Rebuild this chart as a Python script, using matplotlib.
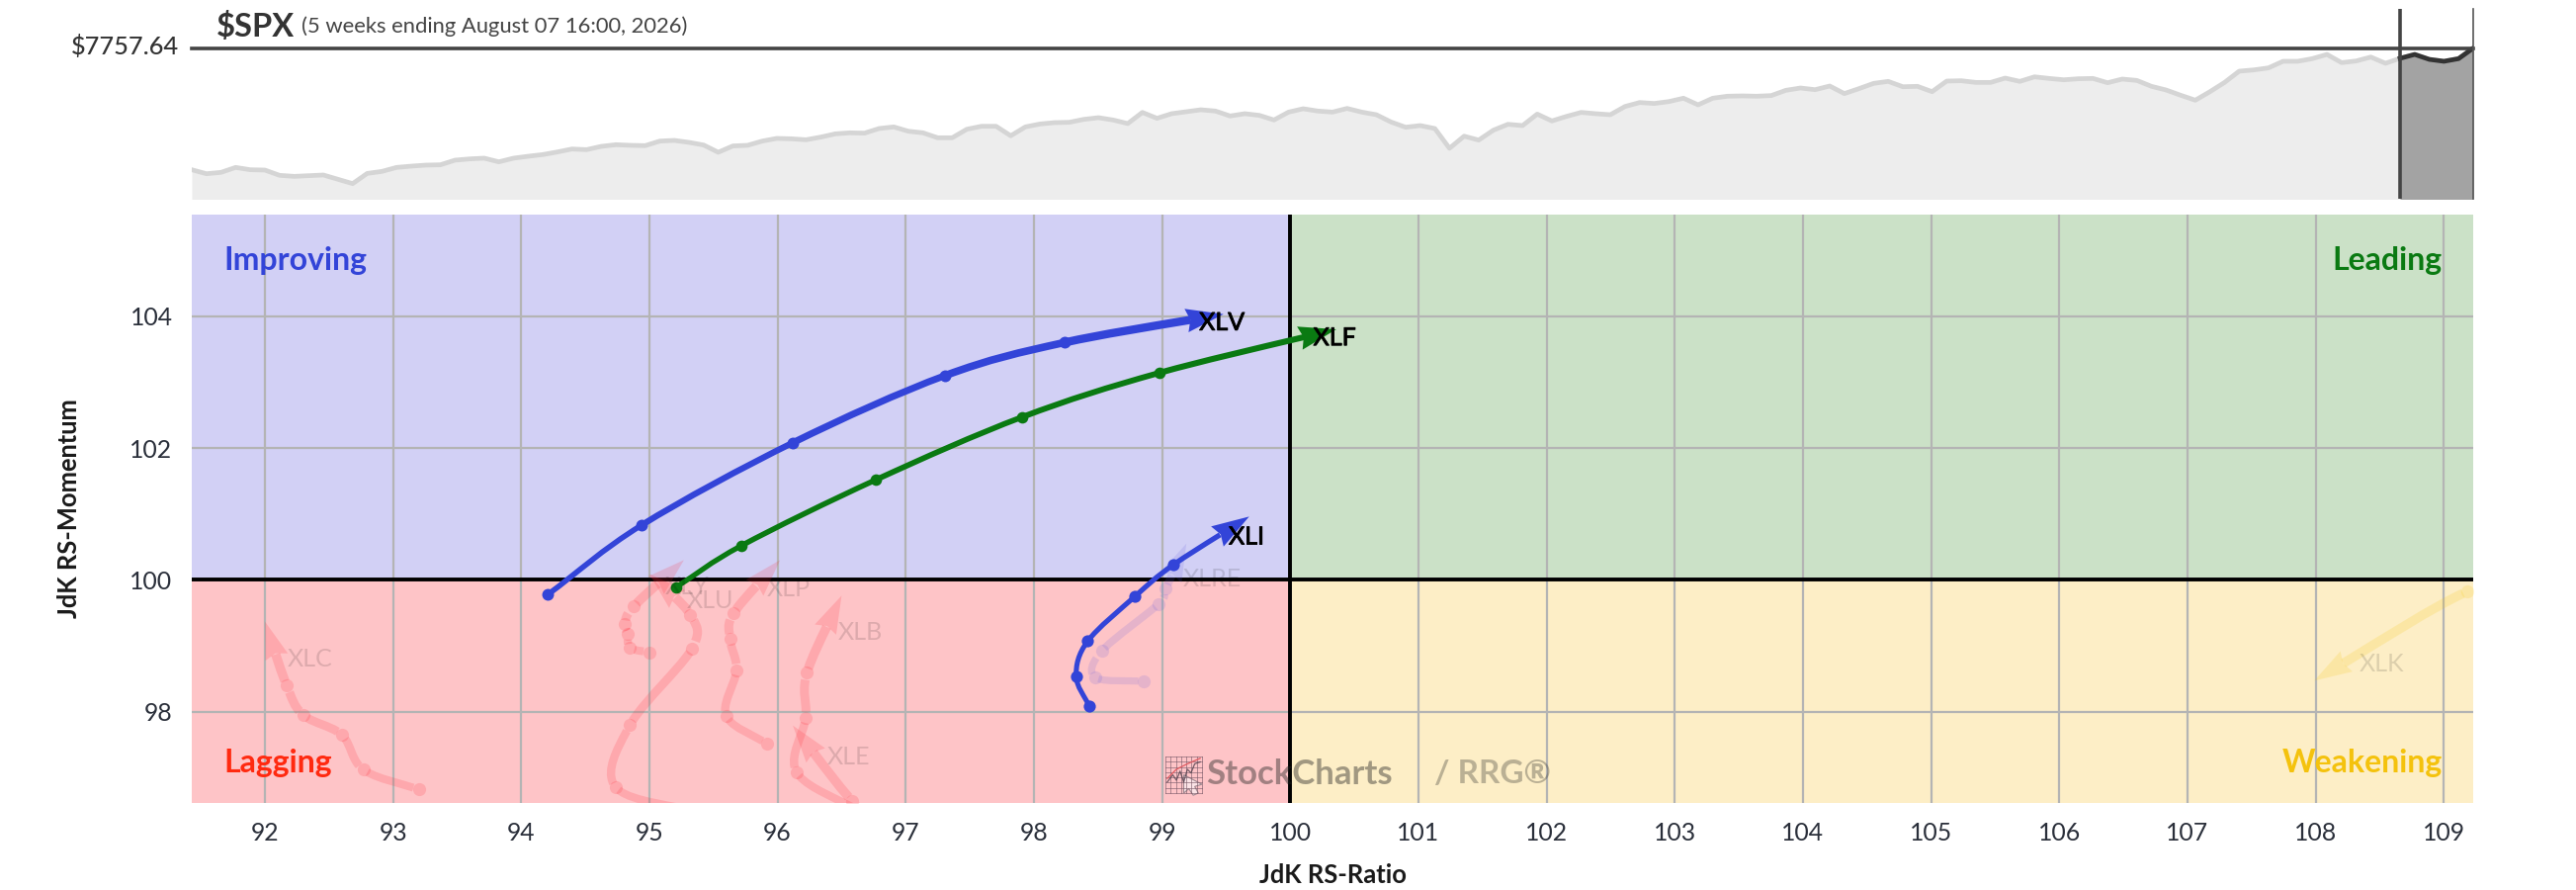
import matplotlib
matplotlib.use("Agg")
import matplotlib.pyplot as plt
from matplotlib.path import Path
from matplotlib.patches import PathPatch, Polygon, Rectangle
from matplotlib.transforms import IdentityTransform
import matplotlib.patheffects as pe
import numpy as np

plt.rcParams['font.family'] = ['Lato', 'DejaVu Sans']

W, H = 2606, 900
TITLE = "$SPX"
SUBTITLE = "(5 weeks ending August 07 16:00, 2026)"
LAST_PRICE = 7757.64

price = [
 6233,6183,6200,6262,6233,6229,6163,6150,6158,6167,6113,6059,6187,6212,6262,6278,6291,6295,6353,6369,6378,6332,6378,6402,6423,6456,6493,6485,6526,6547,6539,6535,6592,6601,6576,
 6543,6452,6531,6539,6592,6626,6621,6609,6642,6683,6696,6692,6750,6770,6716,6696,6634,6634,6741,6778,6778,6659,6770,6807,6824,6828,6865,6886,6857,6812,6952,6878,6936,6960,6985,
 6969,6907,6936,6915,6857,6956,6998,6969,6956,7002,6956,6923,6832,6766,6787,6750,6502,6654,6605,6729,6803,6787,6931,6845,6902,6952,6936,6923,7026,7076,7064,7088,7130,7047,
 7130,7155,7159,7155,7163,7229,7258,7237,7283,7188,7250,7316,7341,7274,7279,7212,7345,7349,7328,7328,7382,7341,7398,7378,7361,7374,7378,7324,7370,7353,7279,7233,7167,7105,
 7212,7328,7469,7485,7510,7593,7593,7626,7679,7576,7597,7646,7568,7630,7679,7617,7593,7626,7757.64]
TAIL_START = 151

xlv_x = [94.21,94.94,96.12,97.31,98.24,99.48]
xlv_y = [99.78,100.83,102.08,103.10,103.60,104.03]
xlf_x = [95.21,95.72,96.77,97.91,98.98,100.36]
xlf_y = [99.89,100.52,101.52,102.47,103.14,103.80]
xli_x = [98.43,98.33,98.42,98.79,99.09,99.68]
xli_y = [98.09,98.54,99.07,99.75,100.23,100.96]
xlre_x = [98.86,98.48,98.53,98.97,99.03,99.19]
xlre_y = [98.46,98.52,98.92,99.63,99.87,100.55]
xlc_x = [93.20,92.77,92.60,92.30,92.17,92.00]
xlc_y = [96.82,97.12,97.65,97.95,98.40,99.37]
xly_x = [95.00,94.85,94.83,94.81,94.88,95.27]
xly_y = [98.90,98.97,99.18,99.33,99.60,100.30]
xlu_x = [95.45,94.74,94.85,95.33,95.32,95.00]
xlu_y = [96.45,96.85,97.80,98.95,99.47,100.09]
xlp_x = [95.92,95.60,95.68,95.63,95.66,96.02]
xlp_y = [97.51,97.94,98.63,99.10,99.50,100.30]
xlb_x = [96.65,96.15,96.22,96.23,96.50]
xlb_y = [96.48,97.08,97.91,98.59,99.76]
xle_x = [97.50,97.25,96.95,96.58,96.12]
xle_y = [94.70,95.30,96.00,96.65,97.79]
xlk_x = [111.9,111.0,110.4,109.8,109.18,107.99]
xlk_y = [100.80,100.50,100.25,100.03,99.82,98.47]

# ---- figure helpers (pixel layout)
fig = plt.figure(figsize=(W/100, H/100), dpi=100, facecolor='white')
def axes_px(l, t, r, b, **kw):
    return fig.add_axes([l/W, 1-b/H, (r-l)/W, (b-t)/H], **kw)
def ftext(x, y, s, **kw):
    fig.text(x/W, 1-y/H, s, **kw)

L, R = 194, 2502
# ---- price strip
top = axes_px(L, 9, R, 200.7)
idx = np.arange(len(price))
top.set_xlim(0, len(price)-1)
top.set_ylim(5872.8, 8250)
top.axis('off')
top.fill_between(idx, price, 5000, color='#ededed', lw=0, zorder=1)
top.plot(idx, price, color='#d5d5d5', lw=3.4, zorder=2)
top.fill_between(idx[TAIL_START:], price[TAIL_START:], 5000, color='#a3a3a3', lw=0, zorder=3)
top.plot(idx[TAIL_START:], price[TAIL_START:], color='#333333', lw=3.4, zorder=4)
top.axhline(LAST_PRICE, color='#444444', lw=2.6, zorder=5, clip_on=False)
top.axvline(TAIL_START, color='#444444', lw=2.6, zorder=5)
top.axvline(len(price)-1, color='#555555', lw=1.2, zorder=5, clip_on=False)

ftext(181, 47.5, f"${LAST_PRICE:.2f}", ha='right', va='center', fontsize=18.3, color='#333333', fontweight='medium')
ftext(219, 27, TITLE, ha='left', va='center', fontsize=23.5, color='#333333', fontweight='bold')
ftext(305, 27, SUBTITLE, ha='left', va='center', fontsize=15.8, color='#444444')

# ---- RRG
ax = axes_px(L, 217, R, 811.7)
XMIN, XMAX, YMIN, YMAX = 91.43, 109.23, 96.62, 105.54
ax.set_xlim(XMIN, XMAX); ax.set_ylim(YMIN, YMAX)
ax.add_patch(Rectangle((XMIN,100),100-XMIN,YMAX-100,color='#d2d0f5',lw=0,zorder=0))
ax.add_patch(Rectangle((100,100),XMAX-100,YMAX-100,color='#cbe1c7',lw=0,zorder=0))
ax.add_patch(Rectangle((XMIN,YMIN),100-XMIN,100-YMIN,color='#fec4c7',lw=0,zorder=0))
ax.add_patch(Rectangle((100,YMIN),XMAX-100,100-YMIN,color='#fdeec6',lw=0,zorder=0))
xticks = list(range(92, 110)); yticks = [98, 100, 102, 104]
ax.set_xticks(xticks); ax.set_yticks(yticks)
ax.grid(True, color='#b4b4b4', lw=1.6, zorder=1); ax.set_axisbelow(True)
for s in ax.spines.values(): s.set_visible(False)
ax.tick_params(length=0, labelsize=17.8, labelcolor='#2a2f3a', pad=14)
ax.axhline(100, color='black', lw=2.8, zorder=2)
ax.axvline(100, color='black', lw=2.8, zorder=2)

ftext(70, 514, "JdK RS-Momentum", rotation=90, ha='center', va='center', fontsize=18.4, fontweight='bold', color='#1a1a1a')
ftext(1349, 885, "JdK RS-Ratio", ha='center', va='center', fontsize=18.4, fontweight='bold', color='#1a1a1a')

for x, y, s, c, ha in [(226,263,'Improving','#3344d8','left'),(2471,263,'Leading','#0a7a12','right'),
                       (226,771,'Lagging','#ff2a10','left'),(2471,771,'Weakening','#f4c20d','right')]:
    ftext(x, y, s, color=c, ha=ha, va='center', fontsize=23, fontweight='bold')

# watermark
ftext(1220, 783, "StockCharts", ha='left', va='center', fontsize=25, fontweight='bold', color='#222222', alpha=0.42)
ftext(1451, 783, "/ RRG®", ha='left', va='center', fontsize=24, fontweight='bold', color='#222222', alpha=0.30)
ic = axes_px(1179, 765, 1216, 802)
ic.set_xlim(0,10); ic.set_ylim(0,10); ic.axis('off'); ic.patch.set_alpha(0)
for g in np.linspace(0,10,8):
    ic.plot([g,g],[0,10],color='#7a5a68',lw=0.6,alpha=.7,clip_on=False)
    ic.plot([0,10],[g,g],color='#7a5a68',lw=0.6,alpha=.7,clip_on=False)
ic.plot([0.5,2,3,4,5,6,7,8,9.5],[3,5,3.5,6,3,6.5,5.5,8,8.5],color='#554450',lw=0.9,alpha=.8)
ic.plot([0.5,3,6,9.5],[4,6.5,8,9.5],color='#e05a60',lw=0.9)
ic.add_patch(Polygon([[5,5],[10,2.4],[8,1.8],[9,0],[7.6,-0.6],[6.4,1.2],[5,0]],fc='#fbe3e6',ec='#a08890',lw=0.8,clip_on=False))

# ---- trails
def catmull(P):
    P = np.asarray(P, float)
    ext = np.vstack([2*P[0]-P[1], P, 2*P[-1]-P[-2]])
    segs = []
    for i in range(1, len(ext)-2):
        p0, p1, p2, p3 = ext[i-1], ext[i], ext[i+1], ext[i+2]
        segs.append((p1, p1+(p2-p0)/6, p2-(p3-p1)/6, p2))
    return segs
def head_part(seg, t):
    a,b,c,d = seg
    ab=a+(b-a)*t; bc=b+(c-b)*t; cd=c+(d-c)*t
    abc=ab+(bc-ab)*t; bcd=bc+(cd-bc)*t
    return (a,ab,abc,abc+(bcd-abc)*t)
def tail_part(seg, t):
    rev = head_part(seg[::-1], 1-t)
    return rev[::-1]

HEAD_LEN, HEAD_W, NOTCH = 38, 24, 4
def draw_trail(xs, ys, color, alpha, lw0, lw1, ms, z):
    P = ax.transData.transform(np.column_stack([xs, ys]))
    segs = catmull(P)
    n = len(segs)
    tip = P[-1]
    # trimming keeps translucent strokes from doubling up on the nodes
    rad = ms*100/72/2 - 1 if alpha < 1 else 0
    out = []
    for i, s in enumerate(segs):
        chord = np.linalg.norm(s[3]-s[0])
        end = (HEAD_LEN-NOTCH-1) if i == n-1 else rad
        t1 = max(0.3, 1-end/chord)
        t0 = min(0.3, rad/chord)
        s2 = tail_part(head_part(s, t1), t0/t1)
        out.append(s2)
        lw = lw0 + (lw1-lw0)*i/max(1, n-1)
        ax.add_patch(PathPatch(Path(list(s2), [Path.MOVETO, Path.CURVE4, Path.CURVE4, Path.CURVE4]),
                     transform=IdentityTransform(), fill=False, ec=color, alpha=alpha, lw=lw,
                     capstyle='butt', joinstyle='round', zorder=z))
    u = tip - out[-1][3]; u = u/np.linalg.norm(u); v = np.array([-u[1], u[0]])
    base = tip - u*HEAD_LEN
    poly = [tip, base+v*HEAD_W/2, base+u*NOTCH, base-v*HEAD_W/2]
    ax.add_patch(Polygon(poly, closed=True, transform=IdentityTransform(), fc=color, ec='none', alpha=alpha, zorder=z))
    ax.plot(xs[:-1], ys[:-1], ls='none', marker='o', ms=ms, mfc=color, mec='none', alpha=alpha, zorder=z)

RED, BLUE, GREEN = '#ff2030', '#3344d8', '#0a7a12'
faded = [(xlc_x,xlc_y,RED),(xly_x,xly_y,RED),(xlu_x,xlu_y,RED),(xlp_x,xlp_y,RED),(xlb_x,xlb_y,RED),(xle_x,xle_y,RED)]
for xs,ys,c in faded:
    draw_trail(xs, ys, c, 0.17, 5.8, 6.8, 9.5, 3)
draw_trail(xlk_x, xlk_y, '#f6c400', 0.17, 6.0, 6.8, 9.5, 3)
draw_trail(xlre_x, xlre_y, '#5a55e0', 0.15, 5.2, 5.8, 9.5, 3)
draw_trail(xlv_x, xlv_y, BLUE, 1, 4.0, 6.0, 8.6, 5)
draw_trail(xlf_x, xlf_y, GREEN, 1, 3.8, 4.4, 8.4, 5)
draw_trail(xli_x, xli_y, BLUE, 1, 3.6, 3.8, 8.8, 5)

label_names = ['XLV','XLF','XLI','XLRE','XLC','XLY','XLU','XLP','XLB','XLE','XLK']
label_x = [99.29,100.18,99.52,99.165,92.18,95.125,95.29,95.92,96.47,96.39,108.34]
label_y = [103.90,103.67,100.65,100.02,98.80,99.90,99.69,99.87,99.21,97.32,98.73]
label_alpha = [1,1,1,.13,.13,.13,.13,.13,.13,.13,.13]
for n,x,y,a in zip(label_names,label_x,label_y,label_alpha):
    t = ax.text(x, y, n, ha='left', va='center', fontsize=18, color='black', alpha=a, zorder=6, clip_on=True)
    if a == 1:
        t.set_path_effects([pe.withStroke(linewidth=0.6, foreground='black')])

fig.savefig('out.png', dpi=100, facecolor='white')
